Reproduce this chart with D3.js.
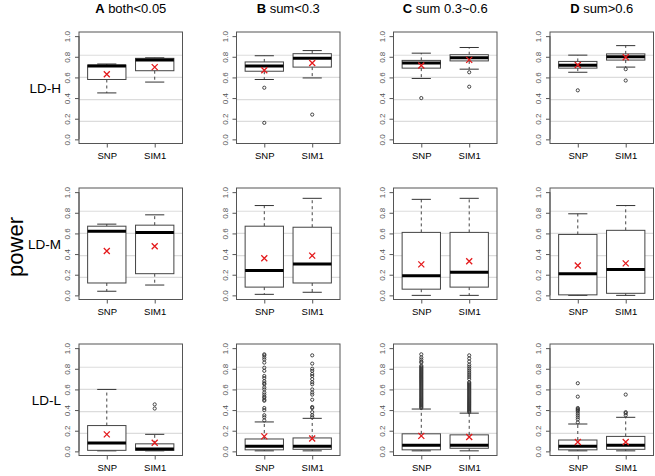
<!DOCTYPE html>
<html><head><meta charset="utf-8">
<script src="https://cdn.jsdelivr.net/npm/d3@7"></script>
<style>body{margin:0;background:#fff}svg{display:block;font-family:"Liberation Sans",Arial,Helvetica,sans-serif}</style>
</head><body><svg id="c" width="655" height="476"></svg>
<script>
// ---------- data ----------
const rowLabels = ["LD-H", "LD-M", "LD-L"];
const colLetters = ["A", "B", "C", "D"];
const colTitles = ["both<0.05", "sum<0.3", "sum 0.3~0.6", "sum>0.6"];
const groups = ["SNP", "SIM1"];
const yTicks = [0, 0.2, 0.4, 0.6, 0.8, 1.0];
const gridValues = [0.175, 0.385, 0.6, 0.815];
const yLabel = "power";

// each entry: [lowerWhisker, Q1, median, Q3, upperWhisker, mean], one per column A-D
const ldH_SNP  = [[0.45,0.58,0.71,0.72,0.73,0.63],[0.58,0.66,0.71,0.75,0.81,0.67],[0.59,0.69,0.74,0.765,0.835,0.715],[0.65,0.69,0.717,0.755,0.816,0.72]];
const ldH_SIM1 = [[0.555,0.665,0.77,0.785,0.79,0.70],[0.595,0.70,0.785,0.83,0.86,0.74],[0.68,0.76,0.79,0.82,0.89,0.77],[0.70,0.768,0.80,0.828,0.908,0.795]];
const ldM_SNP  = [[0.04,0.12,0.62,0.67,0.69,0.43],[0.01,0.08,0.24,0.67,0.87,0.36],[0.0,0.06,0.19,0.61,0.93,0.30],[0.0,0.005,0.21,0.59,0.79,0.29]];
const ldM_SIM1 = [[0.10,0.21,0.61,0.68,0.78,0.475],[0.03,0.12,0.305,0.66,0.94,0.385],[0.0,0.08,0.225,0.61,0.94,0.33],[0.0,0.02,0.25,0.63,0.87,0.31]];
const ldL_SNP  = [[0.005,0.01,0.08,0.25,0.60,0.165],[0.005,0.015,0.05,0.12,0.285,0.145],[0.005,0.015,0.06,0.17,0.41,0.15],[0.005,0.015,0.05,0.11,0.265,0.09]];
const ldL_SIM1 = [[0.005,0.01,0.022,0.073,0.165,0.083],[0.005,0.02,0.05,0.13,0.32,0.125],[0.005,0.03,0.06,0.16,0.37,0.14],[0.005,0.02,0.06,0.145,0.33,0.09]];

// outliers, one list per column A-D
const ldH_SNP_out  = [[], [0.50, 0.16], [0.40], [0.475]];
const ldH_SIM1_out = [[], [0.24], [0.65, 0.51], [0.68, 0.57]];
const ldM_SNP_out  = [[], [], [], []];
const ldM_SIM1_out = [[], [], [], []];
const ldL_SNP_out  = [[],
  [0.94,0.93,0.91,0.89,0.86,0.81,0.78,0.73,0.71,0.68,0.66,0.65,0.62,0.60,0.57,0.55,0.53,0.52,0.50,0.49,0.42,0.40,0.35,0.33,0.30],
  [0.94,0.91,0.89,0.87,0.86,0.83,0.82,0.81,0.80,0.79,0.78,0.77,0.76,0.75,0.74,0.73,0.72,0.71,0.70,0.69,0.68,0.67,0.66,0.65,0.64,0.63,0.62,0.61,0.60,0.59,0.58,0.57,0.56,0.55,0.54,0.53,0.52,0.51,0.50,0.49,0.48,0.47,0.46,0.45,0.44,0.43,0.42],
  [0.66,0.53,0.42,0.41,0.40,0.39,0.37,0.35,0.33,0.31,0.28]];
const ldL_SIM1_out = [[0.455, 0.415],
  [0.93,0.85,0.80,0.78,0.75,0.73,0.70,0.67,0.65,0.60,0.57,0.55,0.50,0.43,0.42,0.38,0.35,0.33],
  [0.93,0.90,0.87,0.84,0.82,0.80,0.78,0.76,0.74,0.72,0.70,0.67,0.66,0.65,0.64,0.63,0.62,0.61,0.60,0.59,0.58,0.57,0.56,0.55,0.54,0.53,0.52,0.51,0.50,0.49,0.48,0.47,0.46,0.45,0.44,0.43,0.42,0.41,0.40,0.39,0.38],
  [0.55,0.38,0.37,0.35]];

const statsByRow = [[ldH_SNP, ldH_SIM1], [ldM_SNP, ldM_SIM1], [ldL_SNP, ldL_SIM1]];
const outByRow = [[ldH_SNP_out, ldH_SIM1_out], [ldM_SNP_out, ldM_SIM1_out], [ldL_SNP_out, ldL_SIM1_out]];

// ---------- layout ----------
const svg = d3.select("#c");
const panelLefts = [79, 236.5, 393.5, 550];
const panelW = 103.5;
const panelTops = [32, 188, 344];
const panelH = 111.5;
const frameColor = "#555";

// title row
colLetters.forEach((L, c) => {
  const t = svg.append("text")
    .attr("x", panelLefts[c] + panelW / 2).attr("y", 13)
    .attr("text-anchor", "middle").attr("font-size", 13).attr("fill", "#000");
  t.append("tspan").attr("font-weight", "bold").text(L);
  t.append("tspan").text(" " + colTitles[c]);
});

// power label
svg.append("text").attr("transform", "translate(23,247) rotate(-90)")
  .attr("text-anchor", "middle").attr("font-size", 22).text(yLabel);

rowLabels.forEach((lab, r) => {
  const top = panelTops[r];
  svg.append("text").attr("x", 61).attr("y", top + panelH / 2 + 5)
    .attr("text-anchor", "end").attr("font-size", 13.5).text(lab);

  colLetters.forEach((_, c) => {
    const left = panelLefts[c];
    const x = d3.scaleLinear().domain([0.42, 2.58]).range([left, left + panelW]);
    const y = d3.scaleLinear().domain([-0.04, 1.04]).range([top + panelH, top]);
    const g = svg.append("g");

    // grid
    g.selectAll("line.grid").data(gridValues).join("line")
      .attr("x1", left).attr("x2", left + panelW)
      .attr("y1", d => y(d)).attr("y2", d => y(d))
      .attr("stroke", "#dcdcdc").attr("stroke-width", 1.2);

    // y axis
    const ya = g.append("g").attr("transform", `translate(${left},0)`)
      .call(d3.axisLeft(y).tickValues(yTicks).tickSize(4).tickFormat(d3.format(".1f")));
    ya.select(".domain").attr("stroke", frameColor).attr("d", `M0,${y(1)}V${y(0)}`);
    ya.selectAll(".tick line").attr("stroke", frameColor);
    ya.selectAll(".tick text").attr("font-size", 8).attr("fill", "#555")
      .attr("font-family", '"Liberation Sans",Arial,sans-serif')
      .attr("transform", "rotate(-90)").attr("x", 0).attr("y", -9).attr("dy", "0")
      .attr("text-anchor", "middle");

    // x axis
    const xa = g.append("g").attr("transform", `translate(0,${top + panelH})`)
      .call(d3.axisBottom(x).tickValues([1, 2]).tickSize(4).tickFormat((d, i) => groups[i]));
    xa.select(".domain").remove();
    xa.selectAll(".tick line").attr("stroke", frameColor);
    xa.selectAll(".tick text").attr("font-size", 9.5).attr("fill", "#000").attr("y", 9)
      .attr("font-family", '"Liberation Sans",Arial,sans-serif');

    const bw = (x(1.4) - x(0.6));
    const capHalf = bw / 4;

    groups.forEach((grp, gi) => {
      const s = statsByRow[r][gi][c];
      const cx = x(gi + 1);
      // whiskers
      g.append("line").attr("x1", cx).attr("x2", cx).attr("y1", y(s[3])).attr("y2", y(s[4]))
        .attr("stroke", "#444").attr("stroke-dasharray", "3,3");
      g.append("line").attr("x1", cx).attr("x2", cx).attr("y1", y(s[1])).attr("y2", y(s[0]))
        .attr("stroke", "#444").attr("stroke-dasharray", "3,3");
      // caps
      [s[0], s[4]].forEach(v => g.append("line")
        .attr("x1", cx - capHalf).attr("x2", cx + capHalf).attr("y1", y(v)).attr("y2", y(v))
        .attr("stroke", "#333"));
      // box
      g.append("rect").attr("x", cx - bw / 2).attr("width", bw)
        .attr("y", y(s[3])).attr("height", Math.max(0.5, y(s[1]) - y(s[3])))
        .attr("fill", "#fff").attr("stroke", "#444").attr("stroke-width", 1);
      // median
      g.append("line").attr("x1", cx - bw / 2).attr("x2", cx + bw / 2)
        .attr("y1", y(s[2])).attr("y2", y(s[2])).attr("stroke", "#000").attr("stroke-width", 3);
      // outliers
      g.selectAll(null).data(outByRow[r][gi][c]).join("circle")
        .attr("cx", cx).attr("cy", d => y(d)).attr("r", 1.6)
        .attr("fill", "none").attr("stroke", "#333").attr("stroke-width", 0.9);
      // mean
      const my = y(s[5]), h = 3;
      g.append("path").attr("d", `M${cx - h},${my - h}L${cx + h},${my + h}M${cx - h},${my + h}L${cx + h},${my - h}`)
        .attr("stroke", "#e41a1c").attr("stroke-width", 1.3).attr("fill", "none");
    });

    // frame
    g.append("rect").attr("x", left).attr("y", top).attr("width", panelW).attr("height", panelH)
      .attr("fill", "none").attr("stroke", frameColor).attr("stroke-width", 1);
  });
});
</script></body></html>
